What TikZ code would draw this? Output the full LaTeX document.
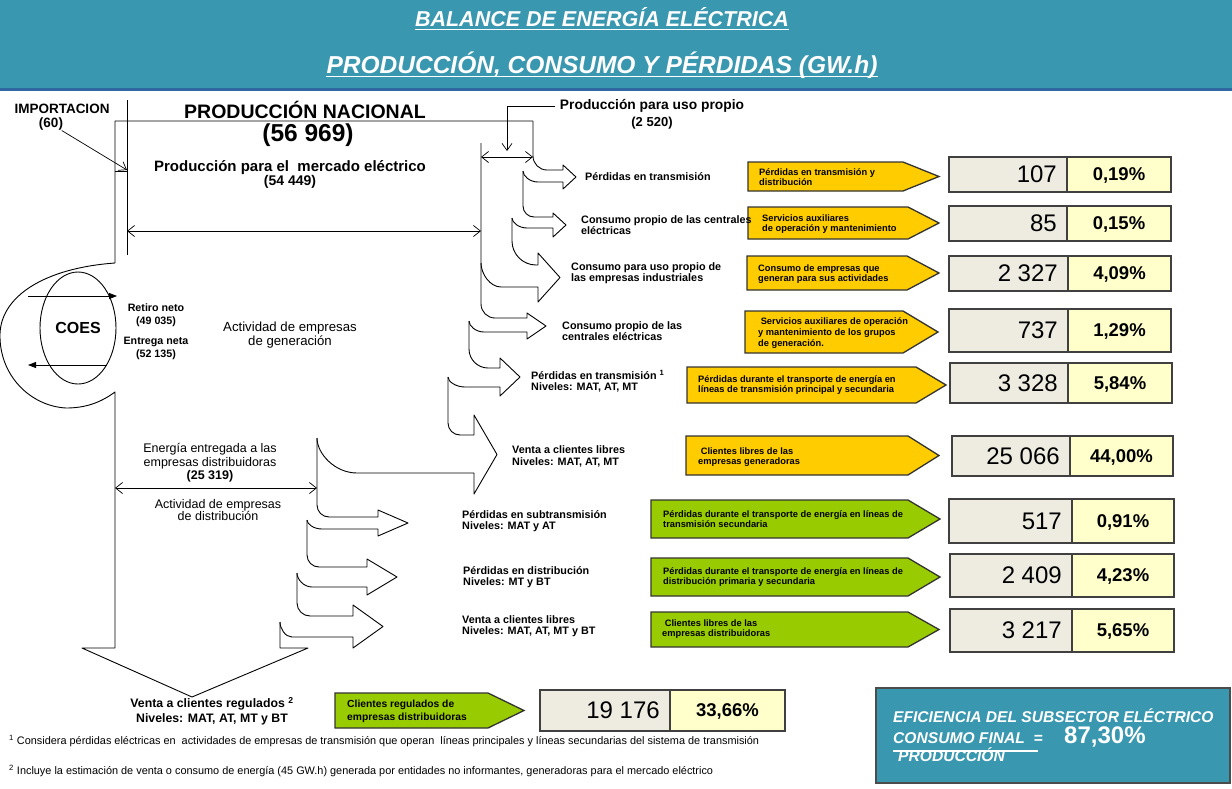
\documentclass[tikz,border=0pt]{standalone}
\usepackage{fontspec}
\setmainfont{Liberation Sans}
\usetikzlibrary{arrows.meta,shapes.geometric}
\definecolor{bteal}{RGB}{57,151,176}
\definecolor{bnavy}{RGB}{47,104,160}
\definecolor{bgold}{RGB}{255,204,0}
\definecolor{bgreen}{RGB}{153,204,0}
\definecolor{bgris}{RGB}{238,236,225}
\definecolor{bcrema}{RGB}{255,255,204}
\tikzset{
  bflow/.style={line width=0.9pt,line join=round},
  bdim/.style={line width=0.7pt,{Straight Barb[length=7pt,width=11pt]}-{Straight Barb[length=7pt,width=11pt]}},
  bptr/.style={line width=0.7pt,-{Straight Barb[length=7pt,width=10pt]}},
  bcoes/.style={line width=0.8pt,-{Triangle[length=8pt,width=6pt]}},
  bttl/.style={font=\bfseries\itshape,text=white,inner sep=0pt},
  bhead/.style={font=\bfseries,align=center,inner sep=0pt},
  blab/.style={font=\fontsize{10.8}{11.2}\selectfont\bfseries,align=left,anchor=west,inner sep=0pt},
  btxt/.style={align=center,inner sep=0pt},
  btagtxt/.style={font=\fontsize{9.3}{10.6}\selectfont\bfseries,align=left,anchor=west,inner sep=0pt},
  bcell/.style={line width=1.3pt,draw=black!75},
  bnum/.style={font=\fontsize{24}{24}\selectfont,anchor=east,inner sep=0pt},
  bpct/.style={font=\fontsize{18.5}{18.5}\selectfont\bfseries,inner sep=0pt,text depth=0pt},
  bnote/.style={font=\fontsize{10.9}{11}\selectfont,anchor=west,inner sep=0pt},
  befi/.style={font=\fontsize{15.6}{16}\selectfont\bfseries\itshape,text=white,anchor=west,inner sep=0pt},
}
\newcommand{\btag}[6]{% #1 left x, #2 top y, #3 point base x, #4 tip x, #5 bottom y, #6 fill
  \filldraw[line width=1.3pt,draw=black!80,fill=#6] (#1,#2) -- (#3,#2) -- (#4,{(#2+#5)/2}) -- (#3,#5) -- (#1,#5) -- cycle;}
\newcommand{\bvalrow}[8]{% #1 name, #2 left x, #3 divider x, #4 right x, #5 top y, #6 bottom y, #7 GW.h, #8 share
  \filldraw[bcell,fill=bgris] (#2,#5) rectangle (#3,#6);
  \filldraw[bcell,fill=bcrema] (#3,#5) rectangle (#4,#6);
  \node[bnum] (#1n) at (#3-10,{(#5+#6)/2}) {#7};
  \node[bpct] (#1p) at ({(#3+#4)/2},{(#5+#6)/2}) {#8};}

\begin{document}
\begin{tikzpicture}[x=1pt,y=-1pt]
\useasboundingbox (0,0) rectangle (1232,788);
% ---- header band
\fill[bteal] (0,0) rectangle (1232,88);
\fill[bnavy] (0,88) rectangle (1232,91);
\node[bttl,font=\fontsize{21.5}{22}\selectfont\bfseries\itshape] (ttlA) at (602,17) {BALANCE DE ENERGÍA ELÉCTRICA};
\node[bttl,font=\fontsize{24.5}{25}\selectfont\bfseries\itshape] (ttlB) at (602,65) {PRODUCCIÓN, CONSUMO Y PÉRDIDAS (GW.h)};
\draw[white,line width=1.4pt] ([yshift=-3pt]ttlA.base west) -- ([yshift=-3pt]ttlA.base east);
\draw[white,line width=1.4pt] ([yshift=-3.5pt]ttlB.base west) -- ([yshift=-3.5pt]ttlB.base east);
% ---- generation side: headings
\node[bhead,font=\fontsize{13.5}{14}\selectfont\bfseries] (imp) at (62,109) {IMPORTACION};
\node[bhead,font=\fontsize{13.5}{14}\selectfont\bfseries] (imp60) at (51,124) {(60)};
\node[bhead,font=\fontsize{19.5}{20}\selectfont\bfseries] (pnac) at (305,110) {PRODUCCIÓN NACIONAL};
\node[bhead,font=\fontsize{24.5}{25}\selectfont\bfseries] (pnacv) at (308,135) {(56 969)};
\node[bhead,font=\fontsize{15}{15}\selectfont\bfseries] (pmer) at (290,168) {Producción para el \ mercado eléctrico};
\node[bhead,font=\fontsize{14}{14}\selectfont\bfseries] (pmerv) at (290,182) {(54 449)};
\node[bhead,font=\fontsize{13.8}{14}\selectfont\bfseries] (puso) at (652,106) {Producción para uso propio};
\node[bhead,font=\fontsize{13}{13}\selectfont\bfseries] (pusov) at (652,123) {(2 520)};
% ---- rims of the flow
\coordinate (impin) at (127,170);
\coordinate (usoin) at (507,151);
\draw[bflow] (127,100) -- (127,255);
\draw[bflow] (115,171) -- (127,171);
\draw[bptr] (imp60) -- (impin);
\draw[bptr] ([xshift=-5pt]puso.west) -| (usoin);
% big band: down arrow, loop round the COES, top rim
\draw[bflow] (280,622) -- (280,648) -- (308,648) -- (192,697) -- (82,648) -- (115,648) -- (115,392)
  .. controls (100,403) and (85,408) .. (66,408)
  .. controls (30,406) and (-1,375) .. (0,334)
  .. controls (1,296) and (45,268) .. (115,263)
  -- (115,121) -- (533,121);
% bent arrows, each from its cusp to the next one
\foreach \cx/\cy/\rt/\sy/\hx/\wa/\tipx/\wb/\sb/\nx/\ny/\rb in {
    533/121/14/170/563/165/576/189/182/523/171/15,
    523/171/11/217/553/213/566/237/228/512/218/15,
    512/218/24/265/538/253/560/302/287/481/263/20,
    481/143/14/318/527/313/546/339/332/469/321/15,
    469/321/19/368/500/358/520/396/387/448/377/17,
    448/377/12/435/474/415/497/494/473/317/438/40,
    317/438/12/517/378/510/408/536/529/307/520/15,
    307/520/12/567/367/559/397/595/587/297/573/15,
    297/573/13/616/353/605/383/648/637/280/622/12}{
  \draw[bflow] (\cx,\cy) -- (\cx,\sy-\rt) .. controls (\cx,\sy-0.45*\rt) and (\cx+0.45*\rt,\sy) .. (\cx+\rt,\sy)
    -- (\hx,\sy) -- (\hx,\wa) -- (\tipx,{(\wa+\wb)/2}) -- (\hx,\wb) -- (\hx,\sb) -- (\nx+\rb,\sb)
    .. controls (\nx+0.45*\rb,\sb) and (\nx,{\ny+0.45*(\sb-\ny)}) .. (\nx,\ny);}
% widths of the flows
\coordinate (merL) at (127,231);
\coordinate (merR) at (481,231);
\coordinate (usoL) at (481,157);
\coordinate (usoR) at (533,157);
\coordinate (disL) at (115,488);
\coordinate (disR) at (317,488);
\draw[bdim] (merL) -- (merR);
\draw[bdim] (usoL) -- (usoR);
\draw[bdim] (disL) -- (disR);
% ---- COES
\node[draw,ellipse,line width=0.9pt,minimum width=76pt,minimum height=112pt,inner sep=0pt,
  font=\fontsize{16}{16}\selectfont\bfseries] (coes) at (78,328) {COES};
\coordinate (retA) at (28,296);
\coordinate (retB) at (117,296);
\coordinate (entA) at (107,365);
\coordinate (entB) at (28,365);
\draw[bcoes] (retA) -- (retB);
\draw[bcoes] (entA) -- (entB);
\node[btxt,font=\fontsize{10.7}{13.5}\selectfont\bfseries] (ret) at (156,315) {Retiro neto\\(49 035)};
\node[btxt,font=\fontsize{10.7}{13.5}\selectfont\bfseries] (ent) at (156,348.5) {Entrega neta\\(52 135)};
\node[btxt,font=\fontsize{13.2}{14}\selectfont] (actg) at (290,335) {Actividad de empresas\\de generación};
\node[btxt,font=\fontsize{12.5}{13.5}\selectfont] (edis) at (210,463) {Energía entregada a las\\empresas distribuidoras\\\textbf{(25 319)}};
\node[btxt,font=\fontsize{12.5}{11.5}\selectfont] (actd) at (218,510) {Actividad de empresas\\de distribución};
% ---- tags
\btag{748}{162}{903}{939}{191}{bgold}
\btag{748}{207}{908}{939}{239}{bgold}
\btag{747}{256}{907}{939}{290}{bgold}
\btag{745}{311}{903}{938}{353}{bgold}
\btag{687}{367}{916}{946}{403}{bgold}
\btag{686}{436}{908}{939}{475}{bgold}
\btag{651}{500}{908}{940}{538}{bgreen}
\btag{651}{558}{908}{940}{596}{bgreen}
\btag{651}{612}{908}{939}{647}{bgreen}
\btag{335}{693}{488}{524}{728}{bgreen}
\node[btagtxt] (g1) at (759,177) {Pérdidas en transmisión y\\distribución};
\node[btagtxt] (g2) at (762,224) {Servicios auxiliares\\de operación y mantenimiento};
\node[btagtxt] (g3) at (758,274) {Consumo de empresas que\\generan para sus actividades};
\node[btagtxt] (g4) at (758,333) {\ Servicios auxiliares de operación\\y mantenimiento de los grupos\\de generación.};
\node[btagtxt] (g5) at (698,385) {Pérdidas durante el transporte de energía en\\líneas de transmisión principal y secundaria};
\node[btagtxt] (g6) at (698,457) {\ Clientes libres de las\\empresas generadoras};
\node[btagtxt] (g7) at (663,519) {Pérdidas durante el transporte de energía en líneas de\\transmisión secundaria};
\node[btagtxt] (g8) at (663,577) {Pérdidas durante el transporte de energía en líneas de\\distribución primaria y secundaria};
\node[btagtxt] (g9) at (662,629) {\ Clientes libres de las\\empresas distribuidoras};
\node[btagtxt,font=\fontsize{10.3}{13}\selectfont\bfseries] (g10) at (347,711) {Clientes regulados de\\empresas distribuidoras};
% ---- labels of the bent arrows (over the tags)
\node[blab] (l1) at (585,177) {Pérdidas en transmisión};
\node[blab] (l2) at (581,225) {Consumo propio de las centrales\\eléctricas};
\node[blab] (l3) at (571,273) {Consumo para uso propio de\\las empresas industriales};
\node[blab] (l4) at (562,331.5) {Consumo propio de las\\centrales eléctricas};
\node[blab] (l5) at (531,381) {Pérdidas en transmisión \textsuperscript{1}\\Niveles: MAT, AT, MT};
\node[blab] (l6) at (512,456.5) {Venta a clientes libres\\Niveles: MAT, AT, MT};
\node[blab] (l7) at (462,521.5) {Pérdidas en subtransmisión\\Niveles: MAT y AT};
\node[blab] (l8) at (463,577.5) {Pérdidas en distribución\\Niveles: MT y BT};
\node[blab] (l9) at (462,626.5) {Venta a clientes libres\\Niveles: MAT, AT, MT y BT};
\node[btxt,font=\fontsize{12.3}{14.5}\selectfont\bfseries] (l10) at (212,711) {Venta a clientes regulados \textsuperscript{2}\\Niveles: MAT, AT, MT y BT};
% ---- GW.h and share
\bvalrow{r1}{949}{1067}{1171}{157}{192}{107}{0,19\%}
\bvalrow{r2}{949}{1067}{1171}{206}{241}{85}{0,15\%}
\bvalrow{r3}{949}{1068}{1171}{256}{291}{2 327}{4,09\%}
\bvalrow{r4}{949}{1068}{1171}{309}{352}{737}{1,29\%}
\bvalrow{r5}{950}{1068}{1172}{363}{403}{3 328}{5,84\%}
\bvalrow{r6}{952}{1070}{1173}{436}{476}{25 066}{44,00\%}
\bvalrow{r7}{949}{1072}{1174}{499}{543}{517}{0,91\%}
\bvalrow{r8}{950}{1072}{1174}{554}{597}{2 409}{4,23\%}
\bvalrow{r9}{950}{1072}{1174}{609}{652}{3 217}{5,65\%}
\bvalrow{r10}{540}{670}{785}{690}{731}{19 176}{33,66\%}
% ---- efficiency box
\filldraw[line width=1.5pt,draw=black!70,fill=bteal] (876,688) rectangle (1230,783);
\node[befi] (efi) at (893,716) {EFICIENCIA DEL SUBSECTOR ELÉCTRICO};
\node[befi] (efic) at (893,738) {CONSUMO FINAL \ =};
\node[befi] (efip) at (898,755) {PRODUCCIÓN};
\node[befi,font=\fontsize{24}{24}\selectfont\bfseries] (efiv) at (1064,737) {87,30\%};
\draw[white,line width=1.3pt] (893,751) -- (1038,751);
% ---- footnotes
\node[bnote] (fn1) at (9,741) {\textsuperscript{1} Considera pérdidas eléctricas en \ actividades de empresas de transmisión que operan \ líneas principales y líneas secundarias del sistema de transmisión};
\node[bnote] (fn2) at (9,771) {\textsuperscript{2} Incluye la estimación de venta o consumo de energía (45 GW.h) generada por entidades no informantes, generadoras para el mercado eléctrico};
\end{tikzpicture}
\end{document}
